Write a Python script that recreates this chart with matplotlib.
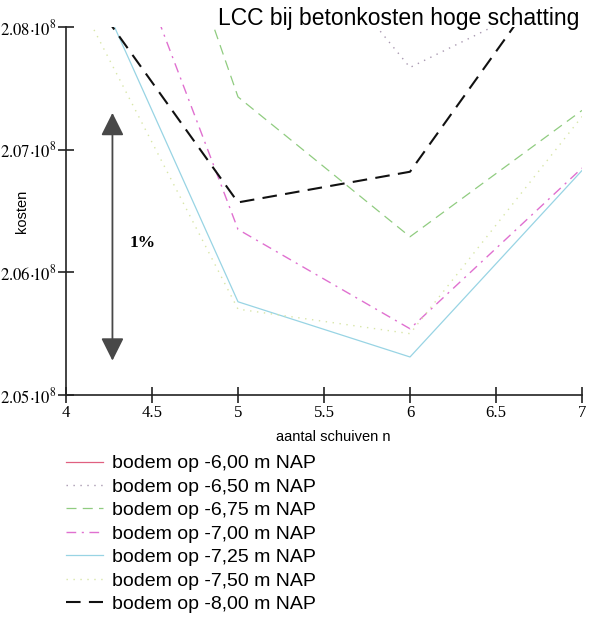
import matplotlib
matplotlib.use("Agg")
import matplotlib.pyplot as plt
from matplotlib.ticker import FixedLocator, FuncFormatter

plt.rcParams["mathtext.fontset"] = "stix"

# aantal schuiven
n = [4, 5, 6, 7]

# levenscycluskosten per bodemdiepte (x 1e8 euro)
kosten_600 = [2.125, 2.105, 2.090, 2.098]
kosten_650 = [2.112, 2.0938, 2.0767, 2.0836]
kosten_675 = [2.1147, 2.0743, 2.0629, 2.0732]
kosten_700 = [2.1004, 2.0635, 2.0554, 2.0685]
kosten_725 = [2.0888, 2.0576, 2.0531, 2.0683]
kosten_750 = [2.0842, 2.0570, 2.0550, 2.0727]
kosten_800 = [2.0853, 2.0657, 2.0682, 2.0878]

labels = [
    "bodem op -6,00 m NAP",
    "bodem op -6,50 m NAP",
    "bodem op -6,75 m NAP",
    "bodem op -7,00 m NAP",
    "bodem op -7,25 m NAP",
    "bodem op -7,50 m NAP",
    "bodem op -8,00 m NAP",
]

x_ticks = [4, 4.5, 5, 5.5, 6, 6.5, 7]
y_ticks = [2.05, 2.06, 2.07, 2.08]

series = [kosten_600, kosten_650, kosten_675, kosten_700,
          kosten_725, kosten_750, kosten_800]
styles = [
    dict(color="#e06080", lw=0.9, ls="-"),
    dict(color="#a898b0", lw=1.0, ls=(0, (1, 4))),
    dict(color="#90cc80", lw=0.9, ls=(0, (8, 5))),
    dict(color="#e070d0", lw=1.0, ls=(0, (7, 4, 1.5, 4))),
    dict(color="#98d4e4", lw=0.9, ls="-"),
    dict(color="#d8e6a8", lw=1.0, ls=(0, (1, 4))),
    dict(color="#111111", lw=1.5, ls=(0, (7, 4))),
]

fig = plt.figure(figsize=(5.92, 6.22), dpi=100)
ax = fig.add_axes([66 / 592, 1 - 395 / 622, (582 - 66) / 592, (395 - 27) / 622])

handles = []
for vals, st, lab in zip(series, styles, labels):
    h, = ax.plot(n, [v * 1e8 for v in vals], label=lab, **st)
    handles.append(h)

ax.set_xlim(4, 7)
ax.set_ylim(2.05e8, 2.08e8)

ax.xaxis.set_major_locator(FixedLocator(x_ticks))
ax.yaxis.set_major_locator(FixedLocator([v * 1e8 for v in y_ticks]))
ax.xaxis.set_major_formatter(FuncFormatter(lambda v, p: f"{v:g}"))
ax.yaxis.set_major_formatter(
    FuncFormatter(lambda v, p: r"$%.2f\!\cdot\!\!10^{8}$" % (v / 1e8)))

for s in ("top", "right"):
    ax.spines[s].set_visible(False)
for s in ("left", "bottom"):
    ax.spines[s].set_color("#222222")
    ax.spines[s].set_linewidth(1.2)

ax.tick_params(axis="both", direction="inout", length=12, width=1.2,
               color="#222222", labelsize=12, pad=1)
for t in ax.get_xticklabels() + ax.get_yticklabels():
    t.set_family(["Liberation Serif", "DejaVu Serif"])

ax.set_xlabel("aantal schuiven n", fontsize=10.5, family="Liberation Sans")
ax.xaxis.set_label_coords(0.517, -0.095)
ax.set_ylabel("kosten", fontsize=10.5, family="Liberation Sans")
ax.yaxis.set_label_coords(-0.072, 0.5)

# pijl die 1% van de kosten aangeeft
ax.annotate("", xy=(4.27, 2.0528e8), xytext=(4.27, 2.0730e8),
            arrowprops=dict(arrowstyle="<|-|>,head_length=1.4,head_width=0.7",
                            color="#484848", lw=1.3, shrinkA=0, shrinkB=0))
ax.text(4.37, 2.0624e8, "1%", fontsize=12.5, fontweight="bold",
        family=["Liberation Serif", "DejaVu Serif"], va="center", ha="left")

fig.text(218 / 592, 1 - 18 / 622, "LCC bij betonkosten hoge schatting",
         fontsize=16.5, family="Liberation Sans", ha="left", va="center")

fig.legend(handles=handles, labels=labels, loc="upper left",
           bbox_to_anchor=(58 / 592, 1 - 447 / 622), frameon=False,
           prop=dict(family="Liberation Sans", size=14),
           handlelength=1.9, handletextpad=0.5, labelspacing=0.3,
           borderaxespad=0)

fig.savefig("out.png", dpi=100, facecolor="white")
